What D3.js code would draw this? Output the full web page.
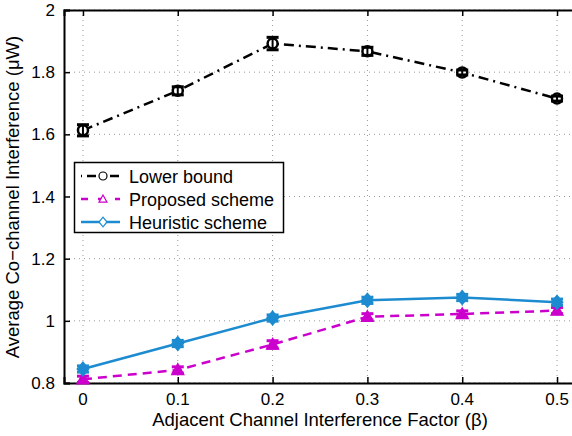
<!DOCTYPE html>
<html>
<head>
<meta charset="utf-8">
<script src="https://cdn.jsdelivr.net/npm/d3@7"></script>
<style>
  body { margin: 0; background: #fff; }
  svg text { font-family: "Liberation Sans", Arial, sans-serif; }
</style>
</head>
<body>
<div class="area"></div>
<script>
const width = 572
const height = 436

// data
const betas = [0, 0.1, 0.2, 0.3, 0.4, 0.5]
const lowerBound = [1.613, 1.740, 1.892, 1.867, 1.799, 1.715]
const lowerBoundErr = [0.018, 0.013, 0.020, 0.013, 0.008, 0.008]
const proposed = [0.812, 0.842, 0.924, 1.013, 1.022, 1.033]
const proposedErr = [0.010, 0.010, 0.012, 0.010, 0.010, 0.010]
const heuristic = [0.845, 0.927, 1.009, 1.066, 1.075, 1.060]
const heuristicErr = [0.010, 0.010, 0.010, 0.010, 0.010, 0.010]
const yTicks = [0.8, 1, 1.2, 1.4, 1.6, 1.8, 2]
const xTicks = [0, 0.1, 0.2, 0.3, 0.4, 0.5]
const seriesNames = ["Lower bound", "Proposed scheme", "Heuristic scheme"]

const black = "#000"
const magenta = "#cc00cc"
const blue = "#1d8bd0"

const svg = d3.select(".area")
  .append("svg")
  .attr("width", width)
  .attr("height", height)

const x = d3.scaleLinear()
  .domain([-0.02, 0.52])
  .range([64, 576])

const y = d3.scaleLinear()
  .domain([0.8, 2])
  .range([383, 10])

const gridLayer = svg.append("g")
const axisLayer = svg.append("g")
const lineLayer = svg.append("g")
const legendLayer = svg.append("g")

// dotted grid
gridLayer.selectAll(".vgrid")
  .data(xTicks)
  .enter()
  .append("line")
  .attr("x1", d => x(d))
  .attr("x2", d => x(d))
  .attr("y1", y(2))
  .attr("y2", y(0.8))
  .attr("stroke", "#999")
  .attr("stroke-width", 1)
  .attr("stroke-dasharray", "1,4")

gridLayer.selectAll(".hgrid")
  .data(yTicks)
  .enter()
  .append("line")
  .attr("x1", x(-0.02))
  .attr("x2", x(0.52))
  .attr("y1", d => y(d))
  .attr("y2", d => y(d))
  .attr("stroke", "#999")
  .attr("stroke-width", 1)
  .attr("stroke-dasharray", "1,4")

// axes (ticks inward like matlab)
const xAxis = axisLayer.append("g")
  .attr("transform", `translate(0, ${y(0.8)})`)
  .call(d3.axisTop(x).tickValues(xTicks).tickSize(6).tickFormat(""))
const xAxisTop = axisLayer.append("g")
  .attr("transform", `translate(0, ${y(2)})`)
  .call(d3.axisBottom(x).tickValues(xTicks).tickSize(6).tickFormat(""))
const yAxis = axisLayer.append("g")
  .attr("transform", `translate(${x(-0.02)}, 0)`)
  .call(d3.axisRight(y).tickValues(yTicks).tickSize(6).tickFormat(""))

axisLayer.selectAll("path.domain").attr("stroke", black).attr("stroke-width", 2)
axisLayer.selectAll(".tick line").attr("stroke", black).attr("stroke-width", 1.5)

// tick labels
axisLayer.selectAll(".xlab")
  .data(xTicks)
  .enter()
  .append("text")
  .attr("x", d => x(d))
  .attr("y", 405)
  .attr("text-anchor", "middle")
  .attr("font-size", 17)
  .text(d => d3.format("")(d))

axisLayer.selectAll(".ylab")
  .data(yTicks)
  .enter()
  .append("text")
  .attr("x", 55)
  .attr("y", d => y(d) + 6)
  .attr("text-anchor", "end")
  .attr("font-size", 17)
  .text(d => d3.format("")(d))

svg.append("text")
  .attr("x", 320)
  .attr("y", 426)
  .attr("text-anchor", "middle")
  .attr("font-size", 18.5)
  .text("Adjacent Channel Interference Factor (β)")

svg.append("text")
  .attr("transform", `translate(19, 197) rotate(-90)`)
  .attr("text-anchor", "middle")
  .attr("font-size", 18.5)
  .text("Average Co\u2212channel Interference (\u03bcW)")

const line = d3.line()
  .x(d => x(d[0]))
  .y(d => y(d[1]))

const series = [
  { name: seriesNames[0], vals: lowerBound, err: lowerBoundErr, color: black, dash: "10,5,2,5", marker: "circle", fill: "#fff" },
  { name: seriesNames[1], vals: proposed, err: proposedErr, color: magenta, dash: "9,6", marker: "triangle", fill: magenta },
  { name: seriesNames[2], vals: heuristic, err: heuristicErr, color: blue, dash: null, marker: "diamond", fill: blue }
]

function markerPath(type, cx, cy, s) {
  if (type === "triangle") {
    return `M${cx},${cy - s}L${cx + s},${cy + s * 0.8}L${cx - s},${cy + s * 0.8}Z`
  }
  if (type === "diamond") {
    return `M${cx},${cy - s * 1.2}L${cx + s},${cy}L${cx},${cy + s * 1.2}L${cx - s},${cy}Z`
  }
  return `M${cx - s},${cy}a${s},${s} 0 1,0 ${2 * s},0a${s},${s} 0 1,0 ${-2 * s},0`
}

series.forEach(s => {
  const pts = betas.map((b, i) => [b, s.vals[i], s.err[i]])
  lineLayer.append("path")
    .datum(pts)
    .attr("fill", "none")
    .attr("stroke", s.color)
    .attr("stroke-width", 2.5)
    .attr("stroke-dasharray", s.dash)
    .attr("d", line)

  const g = lineLayer.append("g")
  g.selectAll("path.mk")
    .data(pts)
    .enter()
    .append("path")
    .attr("d", d => markerPath(s.marker, x(d[0]), y(d[1]), 5))
    .attr("fill", s.fill)
    .attr("stroke", s.color)
    .attr("stroke-width", 2.5)
  // error bars
  g.selectAll("line.err")
    .data(pts)
    .enter()
    .append("line")
    .attr("x1", d => x(d[0]))
    .attr("x2", d => x(d[0]))
    .attr("y1", d => y(d[1] - d[2]))
    .attr("y2", d => y(d[1] + d[2]))
    .attr("stroke", s.color)
    .attr("stroke-width", 2)
  ;[-1, 1].forEach(sign => {
    g.selectAll("line.cap" + sign)
      .data(pts)
      .enter()
      .append("line")
      .attr("x1", d => x(d[0]) - 6)
      .attr("x2", d => x(d[0]) + 6)
      .attr("y1", d => y(d[1] + sign * d[2]))
      .attr("y2", d => y(d[1] + sign * d[2]))
      .attr("stroke", s.color)
      .attr("stroke-width", 3)
  })
})

// legend
legendLayer.append("rect")
  .attr("x", 74.5)
  .attr("y", 162.5)
  .attr("width", 209)
  .attr("height", 70)
  .attr("fill", "#fff")
  .attr("stroke", black)
  .attr("stroke-width", 1.5)

series.forEach((s, i) => {
  const ly = 176 + i * 23
  legendLayer.append("line")
    .attr("x1", 81)
    .attr("x2", 120)
    .attr("y1", ly)
    .attr("y2", ly)
    .attr("stroke", s.color)
    .attr("stroke-width", 2.5)
    .attr("stroke-dasharray", s.dash ? (i === 0 ? "1,5,9,14,9" : "7,10") : null)
  legendLayer.append("path")
    .attr("d", markerPath(s.marker, 103, ly, 4))
    .attr("fill", "#fff")
    .attr("stroke", s.color)
    .attr("stroke-width", 1.2)
  legendLayer.append("text")
    .attr("x", 129)
    .attr("y", ly + 6.5)
    .attr("font-size", 18)
    .text(s.name)
})
</script>
</body>
</html>
